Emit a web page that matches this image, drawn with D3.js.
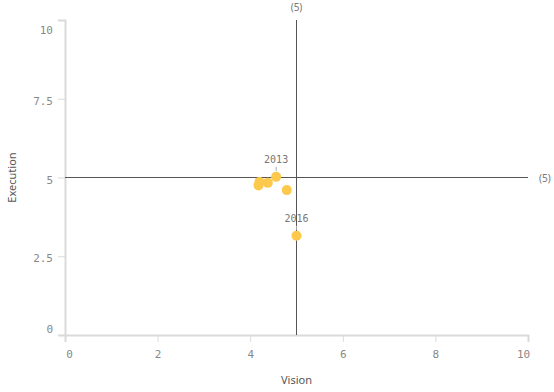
<!DOCTYPE html>
<html>
<head>
<meta charset="utf-8">
<script src="https://cdn.jsdelivr.net/npm/d3@7"></script>
<style>
  body { margin: 0; background: #fff; }
  .tick text { font-family: "DejaVu Sans Mono", monospace; font-size: 11px; fill: #888; }
</style>
</head>
<body>
<div id="chart"></div>
<script>
const visionVals = [4.18, 4.2, 4.38, 4.56, 4.79, 5.0];
const executionVals = [4.75, 4.86, 4.83, 5.02, 4.6, 3.15];
const pointLabels = ["", "", "", "2013", "", "2016"];
const xTicks = [0, 2, 4, 6, 8, 10];
const yTicks = [0, 2.5, 5, 7.5, 10];
const refX = 5, refY = 5;

const W = 554, H = 392;
const margin = { top: 20, right: 26, bottom: 57, left: 65 };
const width = W - margin.left - margin.right;
const height = H - margin.top - margin.bottom;

const svg = d3.select("#chart").append("svg")
  .attr("width", W).attr("height", H)
  .append("g")
  .attr("transform", "translate(" + margin.left + "," + margin.top + ")");

const x = d3.scaleLinear().domain([0, 10]).range([0, width]);
const y = d3.scaleLinear().domain([0, 10]).range([height, 0]);

// axes
const xAxis = svg.append("g")
  .attr("transform", "translate(0," + height + ")")
  .call(d3.axisBottom(x).tickValues(xTicks).tickSize(7).tickPadding(8));
xAxis.selectAll("text").attr("dx", (d) => d === 0 ? 4 : d === 10 ? -5 : 0);

const yAxis = svg.append("g")
  .call(d3.axisLeft(y).tickValues(yTicks).tickSize(7).tickPadding(5).tickFormat(d3.format("")));
yAxis.selectAll("text").attr("dy", (d) => d === 0 ? "-0.2em" : d === 10 ? "1.2em" : "0.5em");

svg.selectAll(".domain, .tick line").attr("stroke", "#dadada").attr("stroke-width", 2);
svg.selectAll(".tick line").attr("stroke-width", 1);

// reference lines
svg.append("line")
  .attr("x1", x(refX)).attr("x2", x(refX))
  .attr("y1", y(10)).attr("y2", height)
  .attr("stroke", "#555").attr("stroke-width", 1);
svg.append("line")
  .attr("x1", 0).attr("x2", x(10))
  .attr("y1", y(refY)).attr("y2", y(refY))
  .attr("stroke", "#555").attr("stroke-width", 1);

svg.append("text")
  .attr("x", x(refX)).attr("y", y(10) - 9)
  .attr("text-anchor", "middle")
  .style("font-family", "Noto Sans, sans-serif").style("font-size", "10px").style("fill", "#777")
  .text("(" + refX + ")");
svg.append("text")
  .attr("x", x(10) + 11).attr("y", y(refY) + 4)
  .style("font-family", "Noto Sans, sans-serif").style("font-size", "10px").style("fill", "#777")
  .text("(" + refY + ")");

// points
const pts = visionVals.map((v, i) => ({ v: v, e: executionVals[i], label: pointLabels[i] }));

svg.append("g").selectAll("line")
  .data(pts.filter((d) => d.label))
  .join("line")
  .attr("x1", (d) => x(d.v)).attr("x2", (d) => x(d.v))
  .attr("y1", (d) => y(d.e) - 10).attr("y2", (d) => y(d.e) - 6)
  .attr("stroke", "#aaa");

svg.append("g").selectAll("circle")
  .data(pts)
  .join("circle")
  .attr("cx", (d) => x(d.v))
  .attr("cy", (d) => y(d.e))
  .attr("r", 5)
  .attr("fill", "#fcc94c");

svg.append("g").selectAll("text")
  .data(pts.filter((d) => d.label))
  .join("text")
  .attr("x", (d) => x(d.v))
  .attr("y", (d) => y(d.e) - 14)
  .attr("text-anchor", "middle")
  .style("font-family", "DejaVu Sans Mono, monospace").style("font-size", "10px").style("fill", "#777")
  .text((d) => d.label);

// axis titles
svg.append("text")
  .attr("x", width / 2).attr("y", height + 49)
  .attr("text-anchor", "middle")
  .style("font-family", "Noto Sans, sans-serif").style("font-size", "11px").style("fill", "#555")
  .text("Vision");
svg.append("text")
  .attr("transform", "translate(" + (-49) + "," + (height / 2) + ") rotate(-90)")
  .attr("text-anchor", "middle")
  .style("font-family", "Noto Sans, sans-serif").style("font-size", "11px").style("fill", "#555")
  .text("Execution");
</script>
</body>
</html>
